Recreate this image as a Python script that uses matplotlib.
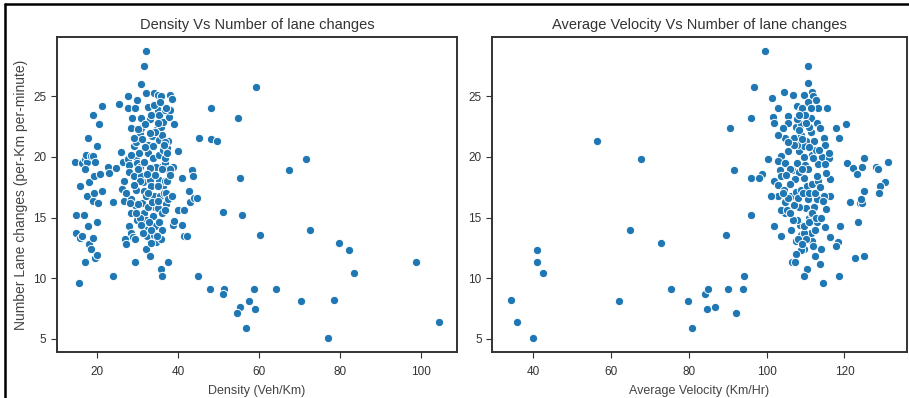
import matplotlib.pyplot as plt
import seaborn as sns
from matplotlib.lines import Line2D

# values
density = [14.5, 16.1, 16.9, 17.5, 17.1, 18.3, 18.8, 19.4, 16.9, 15.7,
           14.7, 16.6, 14.8, 15.7, 16.3, 15.4, 16.9, 18.0, 18.3, 19.0,
           19.3, 19.8, 19.8, 17.7, 17.5, 18.0, 18.8, 19.2, 20.2, 19.1,
           17.7, 19.0, 19.8, 20.3, 21.2, 20.7, 21.2, 22.5, 22.9, 23.9,
           23.9, 24.7, 25.4, 25.7, 26.3, 26.5, 26.1, 26.6, 26.9, 27.1,
           27.5, 27.5, 27.5, 27.7, 27.9, 28.2, 28.5, 28.4, 28.4, 27.9,
           28.4, 28.8, 29.2, 29.3, 29.8, 29.1, 29.6, 29.1, 29.6, 29.8,
           29.6, 29.2, 29.8, 29.3, 30.4, 30.7, 30.7, 31.5, 31.9, 32.0,
           32.4, 30.8, 31.2, 31.4, 31.1, 31.5, 31.9, 32.0, 32.3, 32.0,
           32.9, 32.4, 32.6, 32.9, 33.3, 33.5, 33.7, 33.7, 33.9, 33.5,
           32.9, 33.3, 33.9, 34.1, 33.7, 34.3, 34.0, 34.5, 33.9, 34.9,
           35.7, 34.9, 35.3, 36.6, 34.7, 35.7, 36.3, 35.2, 36.0, 35.3,
           36.1, 35.7, 36.6, 37.4, 35.2, 36.1, 35.5, 36.4, 36.8, 34.9,
           35.9, 35.3, 35.9, 35.6, 35.6, 35.9, 37.5, 36.8, 37.1, 37.4,
           37.6, 38.0, 38.0, 38.4, 39.0, 39.9, 38.6, 37.0, 38.5, 37.0,
           38.6, 38.9, 37.8, 37.4, 30.6, 30.2, 30.8, 31.8, 28.4, 32.0,
           32.6, 31.2, 30.0, 34.3, 34.5, 33.0, 34.9, 33.3, 36.8, 37.2,
           30.0, 30.4,
           29.0, 31.0, 33.0, 34.0, 35.0, 36.5, 37.2, 36.0, 34.2, 32.2,
           30.5, 29.0, 31.5, 33.4, 35.0, 36.7, 32.7, 30.8, 29.5, 34.8,
           33.2, 28.0, 27.0, 38.0, 38.3, 37.0, 35.5, 31.8, 30.0, 32.5,
           45.0, 48.1, 49.6, 48.1, 54.8, 59.2, 55.1, 51.0, 55.8, 60.2,
           71.6, 67.2, 72.5, 79.6, 82.2, 83.4, 98.7, 104.3, 76.9, 78.4,
           70.2, 64.2, 58.7, 59.0, 57.5, 56.7, 55.1, 54.5, 51.3, 51.1,
           47.7, 44.9, 41.0, 41.3, 42.0, 41.0, 39.9, 41.3, 43.3, 43.7,
           42.5, 42.8, 43.9, 44.6]
density_lc = [19.6, 19.5, 19.8, 19.6, 20.2, 20.1, 20.1, 19.6, 19.0, 17.6,
              15.2, 15.2, 13.7, 13.3, 13.5, 9.6, 11.3, 12.8, 12.4, 13.3,
              11.7, 11.9, 14.6, 14.3, 16.8, 17.9, 16.4, 17.0, 16.2, 18.4,
              21.6, 23.5, 20.9, 22.7, 24.2, 18.6, 17.2, 19.2, 18.7, 16.3,
              10.2, 19.1, 24.4, 20.4, 19.6, 18.0, 17.4, 16.4, 13.2, 12.8,
              25.0, 24.0, 19.8, 19.3, 18.8, 22.4, 23.2, 16.5, 15.4, 14.3,
              13.7, 13.4, 11.3, 24.0, 24.7, 20.9, 21.2, 18.4, 20.0, 19.5,
              17.3, 16.0, 14.8, 13.2, 22.0, 22.4, 26.0, 27.5, 28.7, 25.3,
              24.1, 18.4, 17.9, 17.2, 16.2, 15.4, 14.8, 14.0, 13.5, 12.4,
              11.8, 21.0, 20.3, 23.1, 23.5, 21.7, 20.9, 19.9, 19.2, 18.7,
              18.1, 17.6, 16.8, 15.9, 15.1, 14.3, 13.6, 13.0, 25.3, 25.1,
              25.0, 23.9, 23.5, 23.9, 22.3, 22.5, 22.9, 21.4, 21.8, 20.2,
              20.6, 19.2, 19.5, 19.0, 18.1, 17.6, 16.8, 17.0, 18.0, 15.8,
              15.4, 14.6, 14.0, 13.2, 10.8, 10.2, 11.3, 19.9, 20.7, 21.3,
              23.3, 23.9, 25.1, 24.8, 22.7, 20.5, 19.2, 17.0, 16.8, 16.1,
              14.4, 14.7, 19.0, 16.5, 19.2, 20.3, 23.2, 22.7, 20.2, 16.8,
              15.9, 13.7, 22.3, 22.1, 19.2, 19.1, 17.6, 14.0, 21.2, 18.0,
              16.1, 15.0,
              21.6, 21.5, 22.0, 24.3, 22.8, 21.0, 20.3, 19.0, 18.5, 18.6,
              18.0, 17.7, 19.6, 16.3, 16.4, 15.6, 14.6, 14.4, 15.4, 13.5,
              12.9, 16.2, 17.0, 18.5, 16.8, 24.0, 24.5, 20.8, 19.0, 17.0,
              21.6, 21.5, 21.3, 24.0, 23.2, 25.8, 18.3, 15.5, 15.2, 13.6,
              19.8, 18.9, 14.0, 12.9, 12.3, 10.4, 11.3, 6.4, 5.1, 8.2,
              8.1, 9.1, 9.1, 7.5, 8.1, 5.9, 7.6, 7.1, 9.1, 8.7,
              9.1, 10.2, 14.4, 13.5, 13.5, 18.3, 15.6, 15.6, 18.9, 18.4,
              17.2, 16.3, 16.6, 16.6]

velocity = [34.3, 35.9, 40.0, 40.9, 40.9, 42.5, 56.5, 62.2, 64.8, 67.6,
            72.9, 75.5, 79.7, 80.9, 84.1, 85.0, 84.7, 86.7, 89.5, 90.5,
            91.7, 90.1, 92.1, 93.9, 94.3, 95.9, 96.1, 96.8, 96.1, 98.7,
            98.1,
            99.5, 110.5, 110.5, 101.4, 104.4, 106.9, 109.6, 111.7, 112.0, 112.6,
            113.2, 115.5, 102.9, 107.9, 108.8, 109.2, 110.5, 105.4, 101.7, 101.9,
            105.4, 104.1, 104.6, 107.5, 108.8, 111.3, 113.0, 113.7, 117.9, 120.3,
            118.7, 107.1, 108.8, 110.1, 111.3, 114.7, 114.9, 105.4, 103.7, 100.3,
            103.0, 104.8, 108.3, 109.5, 109.6, 111.7, 112.6, 114.3, 116.0, 116.0,
            113.2, 114.9, 109.8, 107.9, 106.4, 103.5, 103.7, 102.0, 102.9,
            120.6, 122.3, 123.3, 124.6, 124.9, 128.2, 128.6, 131.1, 130.3, 129.0,
            128.8, 125.1, 121.4, 124.0, 124.6, 124.2, 123.5, 122.6, 125.1, 118.9,
            118.3, 117.7, 118.7, 116.2, 116.2, 116.4, 115.2, 114.8, 115.2, 115.0,
            114.0, 113.8, 114.5, 112.4, 110.3, 109.5, 109.6, 108.8, 107.5, 106.4,
            107.3, 107.5, 108.8, 111.7, 111.3, 113.0, 110.9, 108.5, 107.9, 106.3,
            106.7, 104.6, 103.7, 105.2, 104.8, 106.3, 107.5, 108.8, 110.3, 111.7,
            113.2, 113.0, 109.6, 108.3, 110.5, 112.2, 110.1, 108.3, 111.3, 111.7,
            109.6, 109.6, 113.0, 114.5, 104.4, 102.9, 101.0, 102.0, 103.7, 105.4,
            106.1, 107.9, 112.2, 113.4, 110.8, 109.8, 107.9, 108.3,
            107.0, 108.2, 109.0, 110.0, 111.0, 112.0, 110.5, 109.0, 107.2, 106.0,
            105.0, 104.2, 106.0, 107.0, 108.0, 109.3, 110.8, 112.5, 113.8, 111.0,
            112.3, 110.2, 108.0, 109.0, 111.9, 112.8, 114.0, 105.5, 103.0, 111.5]
velocity_lc = [8.2, 6.4, 5.1, 12.3, 11.3, 10.4, 21.3, 8.1, 14.0, 19.8,
               12.9, 9.1, 8.1, 5.9, 8.7, 9.1, 7.5, 7.6, 13.6, 22.4,
               18.9, 9.1, 7.1, 9.1, 10.2, 15.2, 23.2, 25.8, 18.3, 18.6,
               18.3,
               28.7, 27.5, 26.1, 24.9, 25.4, 25.1, 25.1, 25.4, 25.0, 24.7,
               24.0, 24.0, 24.0, 24.2, 23.9, 24.0, 24.5, 23.4, 23.3, 22.8,
               22.8, 22.4, 21.6, 22.5, 22.7, 23.2, 22.8, 22.4, 22.4, 22.7,
               21.6, 21.6, 21.8, 21.3, 22.1, 21.6, 21.0, 20.5, 20.1, 19.8,
               19.7, 19.5, 20.5, 20.9, 20.0, 20.2, 20.6, 20.0, 19.9, 20.3,
               19.4, 19.4, 19.3, 19.5, 18.9, 18.9, 18.4, 18.0, 17.7,
               19.5, 19.1, 18.6, 19.2, 19.9, 19.2, 19.0, 19.6, 17.9, 17.6,
               17.0, 17.2, 16.3, 16.2, 16.2, 16.5, 14.6, 11.7, 11.8, 14.3,
               13.0, 12.7, 10.2, 13.4, 16.8, 18.2, 18.7, 16.8, 15.7, 14.2,
               12.4, 11.2, 9.6, 11.8, 10.8, 10.2, 12.4, 12.3, 12.0, 11.3,
               11.3, 13.1, 13.6, 13.1, 13.7, 14.6, 15.0, 14.4, 14.8, 14.0,
               14.8, 15.4, 15.6, 15.6, 16.3, 16.8, 17.1, 17.3, 17.6, 17.8,
               18.0, 18.4, 18.3, 18.8, 16.5, 15.9, 15.8, 15.9, 15.4, 15.4,
               13.7, 14.3, 16.5, 16.4, 17.3, 16.8, 16.8, 14.3, 13.5, 16.6,
               19.0, 21.0, 21.3, 20.6, 22.5, 23.5, 23.1, 23.5,
               21.0, 22.2, 21.5, 22.8, 20.8, 19.9, 19.0, 19.0, 18.2, 17.8,
               18.5, 17.0, 15.4, 16.0, 16.6, 17.0, 17.0, 17.0, 17.5, 14.6,
               14.0, 13.2, 13.2, 12.8, 12.7, 15.0, 15.0, 21.2, 21.8, 24.0]

sns.set_style('ticks')
plt.rcParams['font.family'] = ['Liberation Sans', 'DejaVu Sans']

fig = plt.figure(figsize=(9.09, 3.98), dpi=100)
ax1 = fig.add_axes([0.0627, 0.1156, 0.440, 0.791])
ax2 = fig.add_axes([0.5413, 0.1156, 0.4560, 0.791])

point_style = dict(color='#1f77b4', edgecolor='white', linewidth=0.7, s=36)

ax1.scatter(density, density_lc, **point_style)
ax1.set_title('Density Vs Number of lane changes', fontsize=10.5, color='#333333')
ax1.set_xlabel('Density (Veh/Km)', fontsize=9, color='#444444', labelpad=5)
ax1.set_ylabel('Number Lane changes (per-Km per-minute)', fontsize=10, color='#444444')
ax1.set_xticks([20, 40, 60, 80, 100])

ax2.scatter(velocity, velocity_lc, **point_style)
ax2.set_title('Average Velocity Vs Number of lane changes', fontsize=10.5, color='#333333')
ax2.set_xlabel('Average Velocity (Km/Hr)', fontsize=9, color='#444444', labelpad=5)
ax2.set_xticks([40, 60, 80, 100, 120])

for ax in (ax1, ax2):
    ax.set_yticks([5, 10, 15, 20, 25])
    ax.tick_params(labelsize=8.5, colors='#333333', length=4)
    ax.tick_params(axis='x', pad=6)
    for sp in ax.spines.values():
        sp.set_linewidth(1.4)
        sp.set_color('#333333')

# black frame of the screenshot
fig.add_artist(Line2D([5 / 909, 5 / 909], [0, 1 - 4 / 398], color='black', lw=1.8))
fig.add_artist(Line2D([5 / 909, 1], [1 - 4 / 398, 1 - 4 / 398], color='black', lw=1.8))

fig.savefig('out.png', dpi=100)
